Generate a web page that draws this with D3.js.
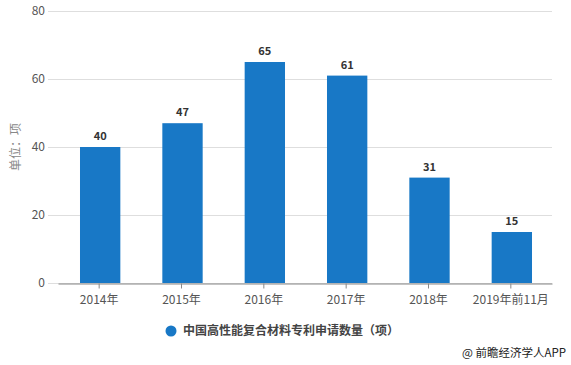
<!DOCTYPE html>
<html>
<head>
<meta charset="utf-8">
<script src="https://cdn.jsdelivr.net/npm/d3@7"></script>
<style>
  body { margin: 0; background: #fff; }
  svg { display: block; font-family: "Noto Sans CJK SC", "Microsoft YaHei", sans-serif; }
</style>
</head>
<body>
<svg id="chart" width="571" height="365"></svg>
<script>
// donnees
const years = ["2014年", "2015年", "2016年", "2017年", "2018年", "2019年前11月"];
const patents = [40, 47, 65, 61, 31, 15];
const yTicks = [0, 20, 40, 60, 80];
const seriesName = "中国高性能复合材料专利申请数量（项）";

const width = 571, height = 365;
const margin = { top: 11, right: 19, bottom: 82, left: 58 };

const svg = d3.select("#chart");

const x = d3.scaleBand()
  .domain(years)
  .range([margin.left, width - margin.right])
  .paddingInner(0.51)
  .paddingOuter(0.255);

const y = d3.scaleLinear()
  .domain([0, 80])
  .range([height - margin.bottom, margin.top]);

// grille
svg.append("g")
  .selectAll("line")
  .data(yTicks)
  .join("line")
  .attr("x1", 48)
  .attr("x2", width - margin.right)
  .attr("y1", d => y(d) + 0.5)
  .attr("y2", d => y(d) + 0.5)
  .attr("stroke", "#dedede");

// axe y
svg.append("g")
  .selectAll("text")
  .data(yTicks)
  .join("text")
  .attr("x", 45)
  .attr("y", d => y(d))
  .attr("dy", "0.35em")
  .attr("text-anchor", "end")
  .attr("font-size", 12)
  .attr("fill", "#555")
  .text(d => d);

svg.append("text")
  .attr("transform", `translate(16, ${y(40)}) rotate(-90)`)
  .attr("text-anchor", "middle")
  .attr("dy", "0.35em")
  .attr("font-size", 12)
  .attr("fill", "#888")
  .text("单位：项");

// barres
svg.append("g")
  .selectAll("rect")
  .data(patents)
  .join("rect")
  .attr("x", (d, i) => x(years[i]) + 1)
  .attr("y", d => y(d))
  .attr("width", x.bandwidth())
  .attr("height", d => y(0) - y(d))
  .attr("fill", "#1878c6");

svg.append("g")
  .selectAll("text")
  .data(patents)
  .join("text")
  .attr("x", (d, i) => x(years[i]) + 1 + x.bandwidth() / 2)
  .attr("y", d => y(d) - 7)
  .attr("text-anchor", "middle")
  .attr("font-size", 11)
  .attr("font-weight", "bold")
  .attr("fill", "#333")
  .text(d => d);

// axe x
const xAxis = svg.append("g")
  .attr("transform", `translate(0, ${y(0) + 0.5})`)
  .call(d3.axisBottom(x).tickSize(5).tickSizeOuter(0));
xAxis.select(".domain").attr("stroke", "#888");
xAxis.selectAll(".tick line").attr("stroke", "#888");
xAxis.selectAll(".tick text")
  .attr("font-size", 12)
  .attr("fill", "#555")
  .attr("dy", "1.05em")
  .style("font-family", "\"Noto Sans CJK SC\", sans-serif");

// legende
svg.append("circle")
  .attr("cx", 171)
  .attr("cy", 331)
  .attr("r", 5.5)
  .attr("fill", "#1878c6");

svg.append("text")
  .attr("x", 183)
  .attr("y", 331)
  .attr("dy", "0.35em")
  .attr("font-size", 12)
  .attr("font-weight", "bold")
  .attr("fill", "#444")
  .text(seriesName);

svg.append("text")
  .attr("x", 566)
  .attr("y", 353)
  .attr("dy", "0.35em")
  .attr("text-anchor", "end")
  .attr("font-size", 11.5)
  .attr("fill", "#222")
  .text("@ 前瞻经济学人APP");
</script>
</body>
</html>
